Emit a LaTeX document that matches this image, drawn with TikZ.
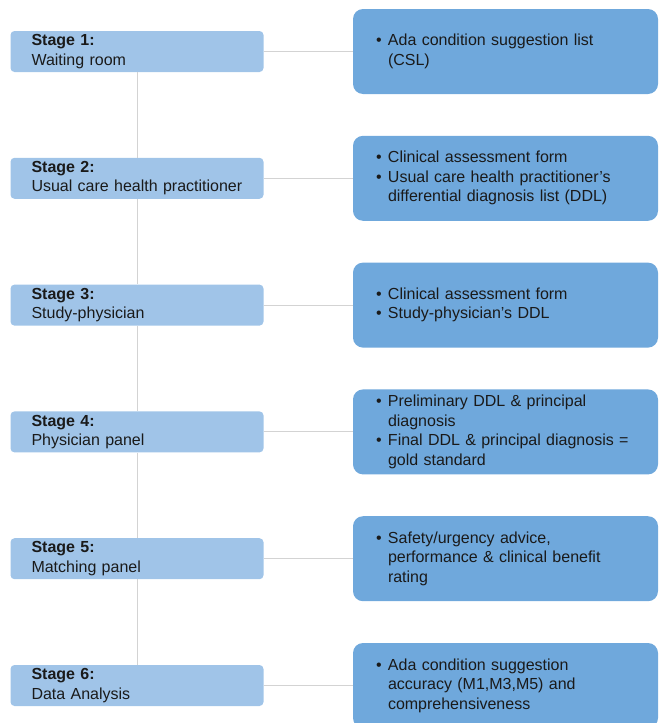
\documentclass[tikz,border=0pt]{standalone}
\usepackage{fontspec}
\setmainfont{Liberation Sans}
\definecolor{stagefill}{HTML}{A0C4E8}
\definecolor{outfill}{HTML}{6FA8DC}
\definecolor{linkgray}{HTML}{D3D3D3}
\definecolor{inkdark}{HTML}{1A1A1A}
\newcommand{\bul}{\makebox[12pt][l]{\textbullet}}
\newcommand{\cont}{\hspace*{12pt}}
\tikzset{
  stagebox/.style={rectangle, rounded corners=4pt, fill=stagefill,
    text width=211pt, inner xsep=21pt, inner ysep=0pt, minimum height=41pt,
    align=left, text=inkdark, font=\fontsize{16}{19.5}\selectfont},
  outbox/.style={rectangle, rounded corners=10pt, fill=outfill,
    text width=259pt, inner xsep=23pt, inner ysep=0pt, minimum height=85pt,
    align=left, text=inkdark, font=\fontsize{16}{19.5}\selectfont},
  link/.style={draw=linkgray, line width=1pt}
}
\begin{document}
\begin{tikzpicture}[x=1pt, y=-1pt]
  \useasboundingbox (0,0) rectangle (659,723);
  % stages
  \node[stagebox] (s1) at (137,51.5) {\textbf{Stage 1:}\\Waiting room};
  \node[stagebox] (s2) at (137,178.3) {\textbf{Stage 2:}\\Usual care health practitioner};
  \node[stagebox] (s3) at (137,305.1) {\textbf{Stage 3:}\\Study-physician};
  \node[stagebox] (s4) at (137,431.9) {\textbf{Stage 4:}\\Physician panel};
  \node[stagebox] (s5) at (137,558.7) {\textbf{Stage 5:}\\Matching panel};
  \node[stagebox] (s6) at (137,685.5) {\textbf{Stage 6:}\\Data Analysis};
  % outputs
  \node[outbox] (o1) at (505.5,51.5) {\bul Ada condition suggestion list\\\cont(CSL)};
  \node[outbox] (o2) at (505.5,178.3) {\bul Clinical assessment form\\\bul Usual care health practitioner’s\\\cont differential diagnosis list (DDL)};
  \node[outbox] (o3) at (505.5,305.1) {\bul Clinical assessment form\\\bul Study-physician’s DDL};
  \node[outbox] (o4) at (505.5,431.9) {\bul Preliminary DDL \& principal\\\cont diagnosis\\\bul Final DDL \& principal diagnosis =\\\cont gold standard};
  \node[outbox] (o5) at (505.5,558.7) {\bul Safety/urgency advice,\\\cont performance \& clinical benefit\\\cont rating};
  \node[outbox] (o6) at (505.5,685.5) {\bul Ada condition suggestion\\\cont accuracy (M1,M3,M5) and\\\cont comprehensiveness};
  \begin{scope}[link]
    \draw (s1) to (s2);
    \draw (s2) to (s3);
    \draw (s3) to (s4);
    \draw (s4) to (s5);
    \draw (s5) to (s6);
    \draw (s1) to (o1);
    \draw (s2) to (o2);
    \draw (s3) to (o3);
    \draw (s4) to (o4);
    \draw (s5) to (o5);
    \draw (s6) to (o6);
  \end{scope}
\end{tikzpicture}
\end{document}
